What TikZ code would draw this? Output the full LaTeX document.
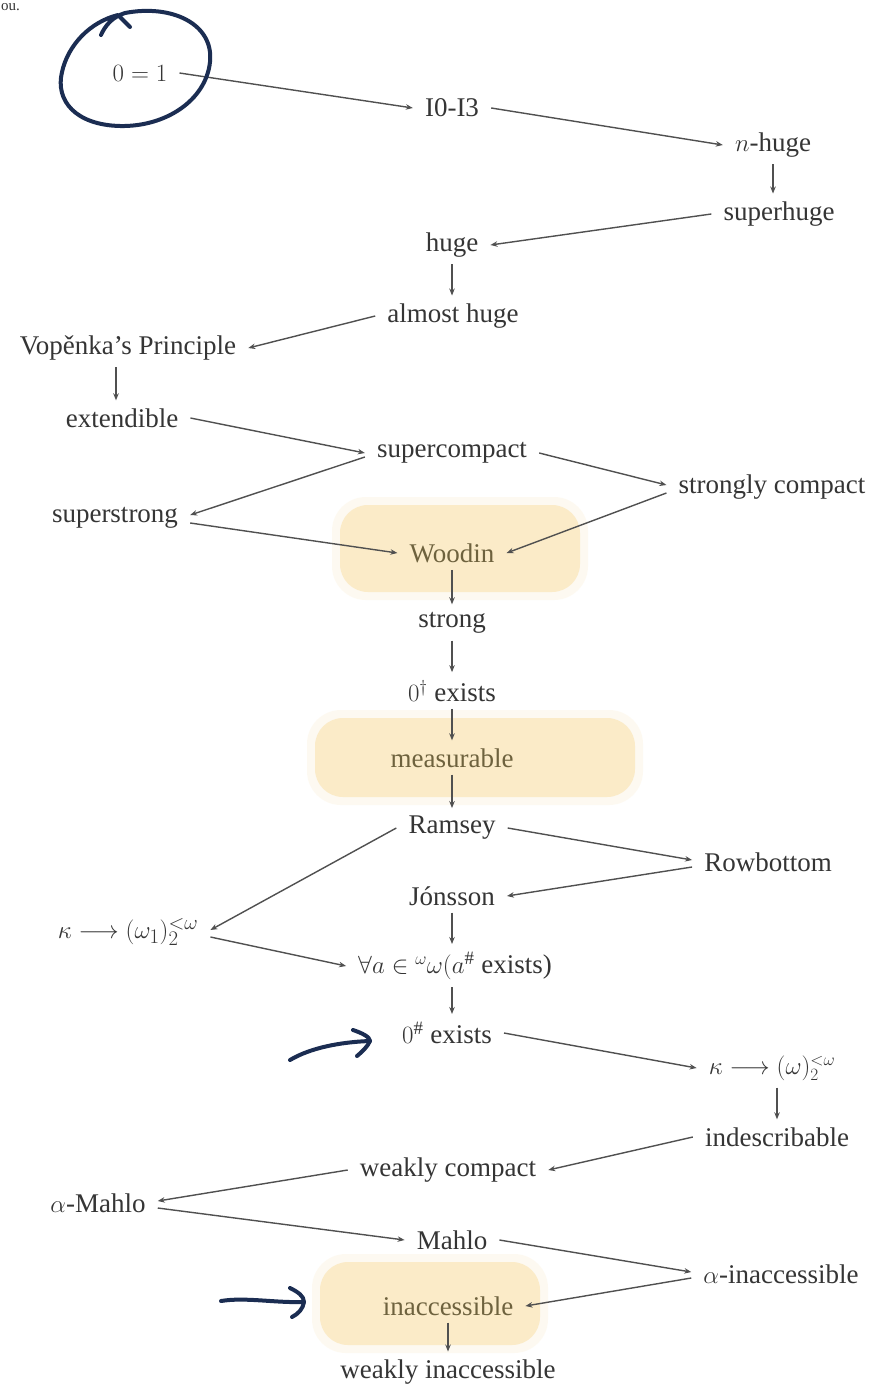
\documentclass[tikz,border=0pt]{standalone}
\usepackage{fontspec}
\setmainfont{Liberation Serif}
\usetikzlibrary{arrows.meta}
\definecolor{txt}{HTML}{353535}
\definecolor{arrc}{HTML}{505050}
\definecolor{hlfill}{HTML}{FBEBC8}
\definecolor{hltxt}{HTML}{6E623E}
\definecolor{pen}{HTML}{1B2D52}
\tikzset{
  lbl/.style={text=txt, font=\fontsize{27}{32}\selectfont, inner xsep=12pt, inner ysep=3pt},
  lblhl/.style={lbl, text=hltxt},
  arr/.style={draw=arrc, line width=1.4pt, -{Stealth[length=7pt,width=5.5pt]}},
  varr/.style={arr, shorten <=4pt, shorten >=5pt},
  hlbox/.style={fill=hlfill, rounded corners=28pt},
  hlsoft/.style={fill=hlfill, opacity=0.25, rounded corners=34pt},
  penline/.style={draw=pen, line width=4pt, line cap=round, line join=round}
}
\begin{document}
\begin{tikzpicture}[x=1pt,y=-1pt]
\clip (0,0) rectangle (875,1386);
\fill[white] (0,0) rectangle (875,1386);

% highlight backgrounds
\fill[hlsoft] (332,497) rectangle (588,600);
\fill[hlbox] (340,505) rectangle (580,592);
\fill[hlsoft] (307,710) rectangle (643,805);
\fill[hlbox] (315,718) rectangle (635,797);
\fill[hlsoft] (312,1254) rectangle (548,1353);
\fill[hlbox] (320,1262) rectangle (540,1345);

% cut-off text at top
\node[text=txt, font=\fontsize{15}{18}\selectfont, anchor=base west, inner sep=0pt] (top) at (1,11) {ou.};

% nodes
\node[lbl] (eq) at (140,73) {$0 = 1$};
\node[lbl] (i0) at (452,108) {I0-I3};
\node[lbl] (nh) at (773,145) {$n$-huge};
\node[lbl] (sh) at (779,214) {superhuge};
\node[lbl] (hu) at (452,245) {huge};
\node[lbl] (ah) at (453,316) {almost huge};
\node[lbl] (vp) at (128,348) {Vopěnka’s Principle};
\node[lbl] (ex) at (122,418) {extendible};
\node[lbl] (sc) at (452,453) {supercompact};
\node[lbl] (stc) at (772,487) {strongly compact};
\node[lbl] (ss) at (115,518) {superstrong};
\node[lblhl] (wd) at (452,553) {Woodin};
\node[lbl] (st) at (452,623) {strong};
\node[lbl] (zd) at (452,691) {$0^{\dagger}$ exists};
\node[lblhl] (me) at (452,758) {measurable};
\node[lbl] (ra) at (452,828) {Ramsey};
\node[lbl] (rb) at (768,862) {Rowbottom};
\node[lbl] (jo) at (452,896) {Jónsson};
\node[lbl, font=\fontsize{30}{34}\selectfont] (k1) at (128,932) {$\kappa \longrightarrow (\omega_1)_2^{<\omega}$};
\node[lbl] (fa) at (455,966) {$\forall a \in {}^{\omega}\omega(a^{\#}$ exists)};
\node[lbl] (zs) at (447,1033) {$0^{\#}$ exists};
\node[lbl] (kw) at (772,1068) {$\kappa \longrightarrow (\omega)_2^{<\omega}$};
\node[lbl] (ind) at (777,1137) {indescribable};
\node[lbl] (wc) at (448,1170) {weakly compact};
\node[lbl] (am) at (98,1203) {$\alpha$-Mahlo};
\node[lbl] (ma) at (452,1240) {Mahlo};
\node[lbl] (ai) at (781,1274) {$\alpha$-inaccessible};
\node[lblhl] (in) at (448,1306) {inaccessible};
\node[lbl] (wi) at (448,1372) {weakly inaccessible};

% diagonal arrows
\draw[arr] (eq.east) -- (i0.west);
\draw[arr] (i0.east) -- (nh.west);
\draw[arr] (sh.west) -- (hu.east);
\draw[arr] (ah.west) -- (vp.east);
\draw[arr] (ex.east) -- (sc.west);
\draw[arr] ([yshift=-4pt]sc.west) -- ([yshift=3pt]ss.east);
\draw[arr] ([yshift=-5pt]ss.east) -- (wd.west);
\draw[arr] (sc.east) -- ([yshift=2pt]stc.west);
\draw[arr] ([yshift=-6pt]stc.west) -- (wd.east);
\draw[arr] (ra.west) -- ([yshift=2pt]k1.east);
\draw[arr] (ra.east) -- ([yshift=2pt]rb.west);
\draw[arr] ([yshift=-5pt]rb.west) -- (jo.east);
\draw[arr] ([yshift=-5pt]k1.east) -- (fa.west);
\draw[arr] (zs.east) -- (kw.west);
\draw[arr] (ind.west) -- (wc.east);
\draw[arr] (wc.west) -- ([yshift=2pt]am.east);
\draw[arr] ([yshift=-5pt]am.east) -- (ma.west);
\draw[arr] (ma.east) -- ([yshift=2pt]ai.west);
\draw[arr] ([yshift=-4pt]ai.west) -- (in.east);

% vertical arrows
\draw[varr] (nh.south) -- (nh.south |- sh.north);
\draw[varr] (hu.south) -- (hu.south |- ah.north);
\draw[varr] (vp.south -| 116,0) -- (ex.north -| 116,0);
\draw[varr] (wd.south) -- (st.north);
\draw[varr] (st.south) -- (zd.north);
\draw[varr] (zd.south) -- (me.north);
\draw[varr] (me.south) -- (ra.north);
\draw[varr] (jo.south) -- (jo.south |- fa.north);
\draw[varr] (jo.south |- fa.south) -- (jo.south |- zs.north);
\draw[varr] (kw.south -| ind.south) -- (ind.north);
\draw[varr] (in.south) -- (wi.north);

% hand-drawn pen marks
\draw[penline] (101,35) .. controls (105,26) and (112,17) .. (125,13)
  .. controls (172,4) and (214,24) .. (210,62)
  .. controls (206,100) and (166,127) .. (120,126)
  .. controls (76,125) and (55,101) .. (62,72)
  .. controls (68,45) and (90,22) .. (118,15) -- (130,27);
\coordinate (p1s) at (290,1060);
\coordinate (p1e) at (370,1041);
\draw[penline] (p1s) .. controls (310,1048) and (340,1042) .. (p1e);
\draw[penline] (353,1030) .. controls (362,1033) and (370,1037) .. (p1e) .. controls (368,1046) and (362,1052) .. (357,1056);
\coordinate (p2s) at (221,1301);
\coordinate (p2e) at (304,1302);
\draw[penline] (p2s) .. controls (245,1297) and (275,1303) .. (p2e);
\draw[penline] (290,1288) .. controls (298,1292) and (304,1296) .. (p2e) .. controls (303,1309) and (298,1314) .. (292,1317);
\end{tikzpicture}
\end{document}
